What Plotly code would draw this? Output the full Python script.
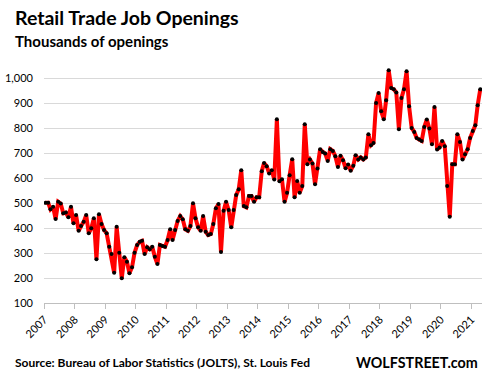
import pandas as pd
import plotly.graph_objects as go

# Monthly retail trade job openings (thousands), Jan 2007 - Apr 2021
openings_2007 = [501, 501, 475, 485, 436, 505, 498, 459, 462, 443, 485, 419]
openings_2008 = [452, 389, 408, 425, 452, 379, 399, 439, 275, 455, 416, 392]
openings_2009 = [379, 325, 296, 221, 405, 301, 199, 283, 265, 219, 243, 301]
openings_2010 = [332, 345, 349, 296, 323, 315, 325, 285, 256, 332, 328, 325]
openings_2011 = [352, 395, 352, 392, 428, 448, 435, 395, 389, 408, 499, 439]
openings_2012 = [403, 389, 448, 385, 372, 376, 416, 479, 496, 304, 469, 505]
openings_2013 = [472, 403, 472, 532, 555, 632, 488, 483, 528, 528, 505, 523]
openings_2014 = [523, 628, 661, 648, 619, 632, 595, 836, 588, 596, 505, 541]
openings_2015 = [612, 676, 523, 589, 541, 568, 816, 656, 675, 659, 576, 639]
openings_2016 = [716, 705, 699, 669, 716, 709, 688, 645, 690, 672, 640, 655]
openings_2017 = [630, 650, 692, 675, 683, 675, 683, 776, 732, 741, 901, 941]
openings_2018 = [868, 836, 912, 1032, 961, 956, 943, 796, 921, 956, 1028, 888]
openings_2019 = [801, 785, 761, 755, 749, 805, 835, 799, 736, 885, 715, 723]
openings_2020 = [749, 728, 568, 445, 656, 656, 776, 745, 675, 696, 716, 761]
openings_2021 = [789, 812, 892, 956]

values = (openings_2007 + openings_2008 + openings_2009 + openings_2010 + openings_2011
          + openings_2012 + openings_2013 + openings_2014 + openings_2015 + openings_2016
          + openings_2017 + openings_2018 + openings_2019 + openings_2020 + openings_2021)
months = pd.date_range("2007-01-01", periods=len(values), freq="MS") + pd.Timedelta(days=15)

y_ticks = [100, 200, 300, 400, 500, 600, 700, 800, 900, 1000]
y_tick_labels = ["100", "200", "300", "400", "500", "600", "700", "800", "900", "1,000"]

FONT = "Lato"

fig = go.Figure()
fig.add_trace(go.Scatter(
    x=months, y=values, mode="lines+markers",
    line=dict(color="#FF0000", width=4),
    marker=dict(color="#000000", size=4),
    hoverinfo="skip",
))

fig.update_layout(
    width=489, height=383,
    margin=dict(l=44, r=7, t=67, b=80, autoexpand=False),
    paper_bgcolor="white", plot_bgcolor="white",
    showlegend=False,
    font=dict(family=FONT, color="#000000"),
    xaxis=dict(
        type="date",
        range=["2006-12-28", "2021-05-07"],
        tickformat="%Y", dtick="M12", tick0="2007-01-01",
        tickangle=-45, tickfont=dict(size=11, family=FONT),
        showgrid=False, showline=True, linecolor="#BFBFBF", linewidth=1,
        ticks="outside", ticklen=5, tickcolor="#BFBFBF",
        zeroline=False, automargin=False,
    ),
    yaxis=dict(
        range=[100, 1045],
        tickvals=y_ticks, ticktext=y_tick_labels,
        tickfont=dict(size=11, family=FONT),
        showgrid=True, gridcolor="#D9D9D9", gridwidth=1,
        showline=False, zeroline=False, ticks="",
        ticklabelstandoff=10, automargin=False,
    ),
)

fig.add_annotation(text="<b>Retail Trade Job Openings</b>", xref="paper", yref="paper",
                   x=-0.07, y=1.0, xanchor="left", yanchor="bottom",
                   yshift=36, showarrow=False, font=dict(size=19.5, family=FONT))
fig.add_annotation(text="<b>Thousands of openings</b>", xref="paper", yref="paper",
                   x=-0.07, y=1.0, xanchor="left", yanchor="bottom",
                   yshift=15, showarrow=False, font=dict(size=15, family=FONT))
fig.add_annotation(text="<b>Source: Bureau of Labor Statistics (JOLTS), St. Louis Fed</b>",
                   xref="paper", yref="paper", x=-0.07, y=0, xanchor="left", yanchor="middle",
                   yshift=-59, showarrow=False, font=dict(size=12, family=FONT))
fig.add_annotation(text="<b>WOLFSTREET.com</b>",
                   xref="paper", yref="paper", x=0.995, y=0, xanchor="right", yanchor="middle",
                   yshift=-59, showarrow=False, font=dict(size=14.3, family=FONT))

fig.write_html("out.html", config={"displayModeBar": False},
               post_script="document.body.style.margin='0';")
